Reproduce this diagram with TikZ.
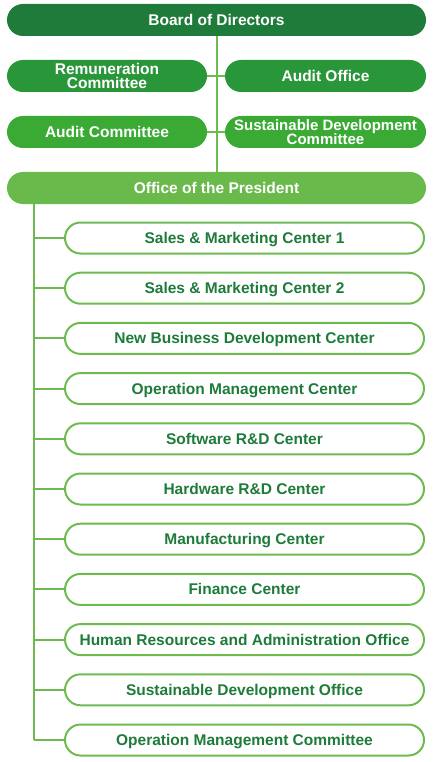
\documentclass[tikz,border=0pt]{standalone}
\usepackage{fontspec}
\setmainfont{Liberation Sans}
\definecolor{gdark}{HTML}{1E7B3A}
\definecolor{gmid}{HTML}{2A963A}
\definecolor{gbright}{HTML}{3AAA35}
\definecolor{glight}{HTML}{6AB94B}
\definecolor{gline}{HTML}{6DBB4F}
\begin{document}
\begin{tikzpicture}[x=1pt,y=-1pt,
  box/.style={rounded corners=16pt, minimum height=32pt, inner sep=0pt, text=white,
    font=\fontsize{15.5}{14}\selectfont\bfseries, align=center},
  single/.style={text height=11pt, text depth=0pt},
  child/.style={draw=gline, line width=2pt, fill=white, rounded corners=15.5pt, minimum width=359pt,
    minimum height=31pt, inner sep=0pt, text=gdark, text height=11pt, text depth=0pt,
    font=\fontsize{15.5}{14}\selectfont\bfseries},
  conn/.style={draw=gline, line width=2pt}]
\useasboundingbox (0,0) rectangle (435,762);
\node[box, single, fill=gdark, minimum width=419pt] (board) at (216.5,20) {Board of Directors};
\node[box, fill=gmid, minimum width=200pt] (rem) at (107,76) {Remuneration\\Committee};
\node[box, single, fill=gmid, minimum width=201pt] (aoff) at (325.5,76) {Audit Office};
\node[box, single, fill=gbright, minimum width=200pt] (acom) at (107,132) {Audit Committee};
\node[box, fill=gbright, minimum width=201pt, font=\fontsize{15}{14}\selectfont\bfseries] (sdc) at (325.5,132) {Sustainable Development\\Committee};
\node[box, single, fill=glight, minimum width=419pt] (pres) at (216.5,188) {Office of the President};
\coordinate (trunk) at (34,0);
\coordinate (spine) at (217,0);
\draw[conn] (spine |- board.south) -- (spine |- pres.north);
\draw[conn] (rem.east) -- (aoff.west);
\draw[conn] (acom.east) -- (sdc.west);
\foreach \i/\t in {1/Sales \& Marketing Center 1, 2/Sales \& Marketing Center 2,
  3/New Business Development Center, 4/Operation Management Center,
  5/Software R\&D Center, 6/Hardware R\&D Center, 7/Manufacturing Center,
  8/Finance Center, 9/Human Resources and Administration Office,
  10/Sustainable Development Office, 11/Operation Management Committee}{
  \node[child] (c\i) at (244.5,{238+50.2*(\i-1)}) {\t};
  \draw[conn] (trunk |- c\i.west) -- (c\i.west);
}
\draw[conn] (trunk |- pres.south) -- (trunk |- c11.west);
\end{tikzpicture}
\end{document}
